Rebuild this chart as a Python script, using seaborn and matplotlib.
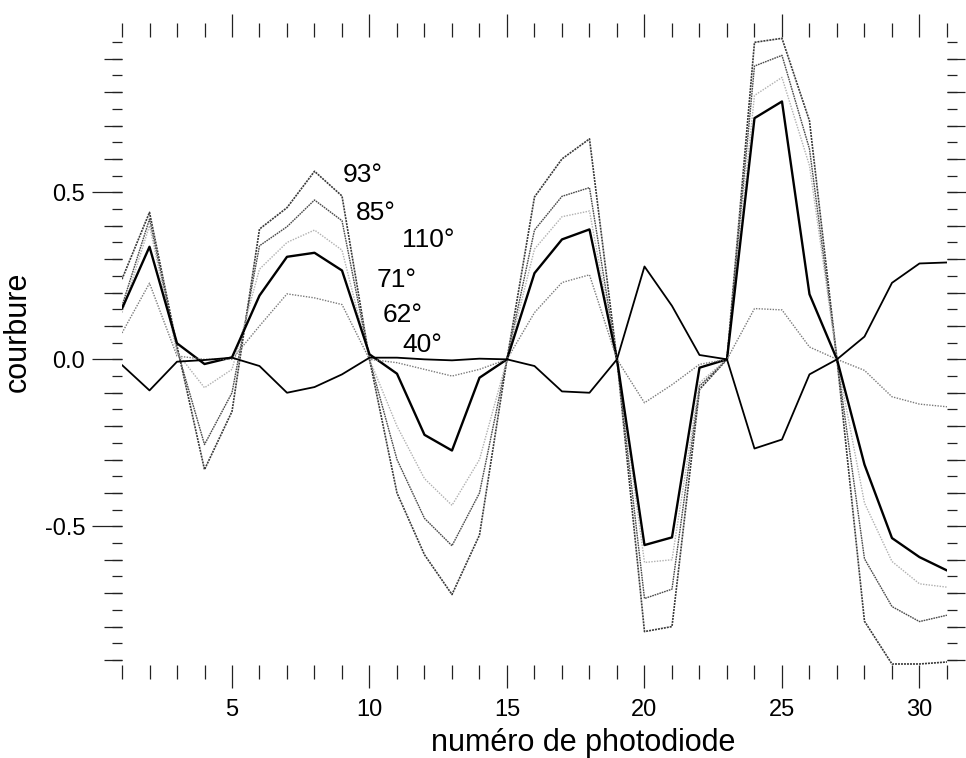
import numpy as np
import pandas as pd
import matplotlib
matplotlib.use("Agg")
import matplotlib.pyplot as plt
from matplotlib.ticker import MultipleLocator, FormatStrFormatter
import seaborn as sns

# photodiode index
photodiode = [1, 2, 3, 4, 5, 6, 7, 8, 9, 10, 11, 12, 13, 14, 15, 16,
              17, 18, 19, 20, 21, 22, 23, 24, 25, 26, 27, 28, 29, 30, 31]

# curvature per angle
c93 = [0.24, 0.44, 0.04, -0.33, -0.156, 0.39, 0.454, 0.563, 0.489, 0.0,
       -0.40, -0.585, -0.704, -0.526, 0.0, 0.486, 0.60, 0.66, 0.0, -0.815,
       -0.80, -0.09, 0.0, 0.949, 0.961, 0.714, 0.0, -0.784, -0.912, -0.912, -0.906]
c85 = [0.16, 0.42, 0.03, -0.255, -0.10, 0.34, 0.397, 0.477, 0.415, 0.0,
       -0.30, -0.476, -0.558, -0.40, 0.0, 0.387, 0.488, 0.514, 0.0, -0.716,
       -0.688, -0.08, 0.0, 0.878, 0.91, 0.63, 0.0, -0.597, -0.74, -0.785, -0.766]
c110 = [0.14, 0.40, 0.02, -0.085, -0.03, 0.27, 0.35, 0.387, 0.327, 0.0,
        -0.20, -0.357, -0.437, -0.30, 0.0, 0.33, 0.427, 0.444, 0.0, -0.608,
        -0.60, -0.07, 0.0, 0.79, 0.844, 0.58, 0.0, -0.43, -0.605, -0.672, -0.682]
c71 = [0.152, 0.337, 0.048, -0.014, 0.006, 0.191, 0.307, 0.319, 0.266, 0.015,
       -0.043, -0.226, -0.273, -0.055, 0.0, 0.258, 0.359, 0.389, 0.0, -0.556,
       -0.533, -0.025, 0.0, 0.722, 0.772, 0.195, 0.0, -0.315, -0.535, -0.592, -0.632]
c62 = [0.079, 0.228, 0.01, 0.0, 0.0, 0.10, 0.196, 0.184, 0.164, 0.0,
       -0.01, -0.03, -0.05, -0.03, 0.0, 0.14, 0.23, 0.253, 0.0, -0.13,
       -0.076, -0.015, 0.0, 0.152, 0.148, 0.037, 0.0, -0.033, -0.112, -0.134, -0.142]
c40 = [-0.017, -0.093, -0.007, -0.002, 0.005, -0.02, -0.10, -0.083, -0.045, 0.005,
       0.005, 0.0, -0.003, 0.002, 0.0, -0.02, -0.096, -0.10, 0.0, 0.278,
       0.16, 0.013, 0.0, -0.267, -0.24, -0.045, 0.0, 0.068, 0.229, 0.287, 0.29]

angle_labels = ["93°", "85°", "110°", "71°", "62°", "40°"]
label_x = [9.04, 9.51, 11.18, 10.27, 10.49, 11.18]
label_y = [0.53, 0.417, 0.336, 0.217, 0.113, 0.021]

sns.set_style("white")
plt.rcParams['font.family'] = ['Liberation Sans', 'DejaVu Sans']
plt.rcParams['axes.unicode_minus'] = False
plt.rcParams['text.color'] = 'black'
plt.rcParams['axes.labelcolor'] = 'black'
plt.rcParams['xtick.color'] = 'black'
plt.rcParams['ytick.color'] = 'black'

fig = plt.figure(figsize=(9.66, 7.58), dpi=100)
ax = fig.add_axes([0.1263, 0.1227, 0.854, 0.8285])

styles = [
    (c93, dict(color="#3a3a3a", lw=1.2, linestyle=(0, (1.2, 0.6)))),
    (c85, dict(color="#4a4a4a", lw=1.0, linestyle=(0, (1.2, 0.6)))),
    (c110, dict(color="#b0b0b0", lw=1.0, linestyle=(0, (1, 1)))),
    (c71, dict(color="black", lw=1.7, linestyle="-")),
    (c62, dict(color="#7a7a7a", lw=1.0, linestyle=(0, (1, 1)))),
    (c40, dict(color="black", lw=1.3, linestyle="-")),
]
for vals, kw in styles:
    sns.lineplot(x=photodiode, y=vals, ax=ax, errorbar=None, **kw)

for lab, lx, ly in zip(angle_labels, label_x, label_y):
    ax.text(lx, ly, lab, fontsize=19, ha="left", va="baseline", color="black")

ax.set_xlim(1, 31)
ax.set_ylim(-0.915, 0.965)
for s in ax.spines.values():
    s.set_visible(False)

ax.xaxis.set_major_locator(MultipleLocator(5))
ax.xaxis.set_minor_locator(MultipleLocator(1))
ax.yaxis.set_major_locator(MultipleLocator(0.5))
ax.yaxis.set_minor_locator(MultipleLocator(0.1))
ax.tick_params(axis="x", which="major", direction="out", length=16.5, width=0.9,
               top=True, bottom=True, labelsize=17, pad=8, color="#222222")
ax.tick_params(axis="x", which="minor", direction="out", length=10, width=0.9,
               top=True, bottom=True, color="#222222")
ax.tick_params(axis="y", which="major", direction="out", length=21.6, width=0.9,
               left=True, right=True, labelsize=17, pad=5, color="#222222")
ax.tick_params(axis="y", which="minor", direction="out", length=13, width=0.9,
               left=True, right=True, color="#222222")
ax.yaxis.set_major_formatter(FormatStrFormatter("%.1f"))

ax.set_xlabel("numéro de photodiode", fontsize=22)
ax.set_ylabel("courbure", fontsize=22)
ax.xaxis.set_label_coords(0.559, -0.10)
ax.yaxis.set_label_coords(-0.108, 0.53)

# finer 0.05 ticks on left and right
ax_fine = fig.add_axes(ax.get_position(), frameon=False)
ax_fine.set_xlim(1, 31)
ax_fine.set_ylim(-0.915, 0.965)
ax_fine.set_xticks([])
ax_fine.yaxis.set_major_locator(MultipleLocator(0.05))
ax_fine.tick_params(axis="y", direction="out", length=7.2, width=0.9,
                    left=True, right=True, labelleft=False, labelright=False,
                    color="#222222")
ax_fine.patch.set_visible(False)

fig.savefig("out.png", dpi=100)
